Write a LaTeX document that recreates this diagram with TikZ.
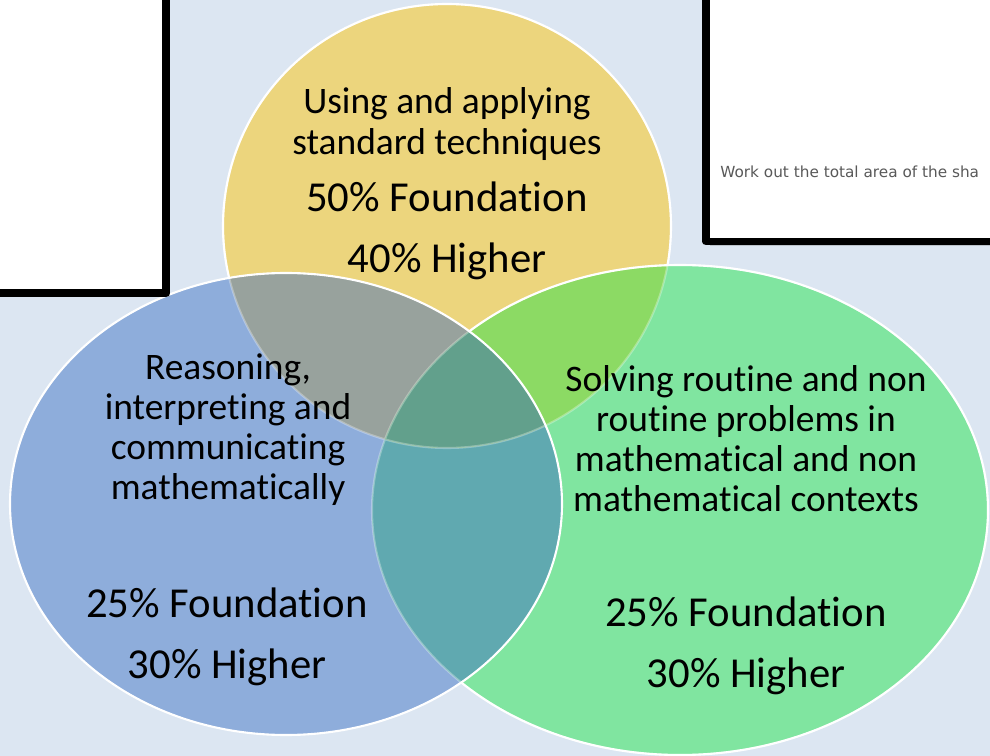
\documentclass[tikz,border=0pt]{standalone}
\usepackage{fontspec}
\setmainfont{Carlito}[Ligatures=NoCommon]
\newfontfamily\slidefont{DejaVu Sans}
\usetikzlibrary{shadows}
\definecolor{bgblue}{HTML}{DCE6F2}
\definecolor{yellowset}{HTML}{ECD57D}
\definecolor{blueset}{HTML}{8EADDB}
\definecolor{greenset}{HTML}{80E5A0}
\definecolor{ybset}{HTML}{98A29D}
\definecolor{ygset}{HTML}{8CDA64}
\definecolor{bgset}{HTML}{60A9B0}
\definecolor{allset}{HTML}{62A08C}
\begin{document}
\begin{tikzpicture}[x=0.02cm, y=-0.02cm, line join=round, line cap=round,
	ring/.style={draw=white, line width=1.2pt},
	faintring/.style={draw=white, draw opacity=0.3, line width=1.2pt},
	heading/.style={align=center, font=\fontsize{21.3}{22.8}\selectfont},
	share/.style={align=center, font=\fontsize{24.3}{34.7}\selectfont},
	pagebox/.style={fill=white, draw=black, line width=4.5pt,
		drop shadow={shadow xshift=2.5pt, shadow yshift=-2.5pt, opacity=0.35}}]
	\useasboundingbox[fill=bgblue] (0,0) rectangle (990,756);
	\path
	(447,226) coordinate (Y)
	(286,504) coordinate (B)
	(680,510) coordinate (G);
	% the three sets
	\fill[yellowset] (Y) ellipse (224 and 222);
	\fill[blueset] (B) ellipse (276 and 231);
	\fill[greenset] (G) ellipse (308 and 245);
	\begin{scope}
		\clip (B) ellipse (276 and 231);
		\fill[bgset] (G) ellipse (308 and 245);
	\end{scope}
	\begin{scope}
		\clip (Y) ellipse (224 and 222);
		\fill[ybset] (B) ellipse (276 and 231);
		\fill[ygset] (G) ellipse (308 and 245);
		\clip (B) ellipse (276 and 231);
		\fill[allset] (G) ellipse (308 and 245);
	\end{scope}
	% outlines
	\draw[faintring] (Y) ellipse (224 and 222) (G) ellipse (308 and 245);
	\begin{scope}[even odd rule]
		\clip (-50,-50) rectangle (1050,800) (B) ellipse (276 and 231);
		\draw[ring] (G) ellipse (308 and 245);
		\clip (-50,-50) rectangle (1050,800) (G) ellipse (308 and 245);
		\draw[ring] (Y) ellipse (224 and 222);
	\end{scope}
	\draw[ring] (B) ellipse (276 and 231);
	% texts
	\node[heading] (usetxt) at (447,124) {Using and applying\\standard techniques};
	\node[share] (usepct) at (447,231) {50\% Foundation\\40\% Higher};
	\node[heading] (reatxt) at (228,430) {Reasoning,\\interpreting and\\communicating\\mathematically};
	\node[share] (reapct) at (227,637) {25\% Foundation\\30\% Higher};
	\node[heading] (soltxt) at (746,439) {Solving routine and non\\routine problems in\\mathematical and non\\mathematical contexts};
	\node[share] (solpct) at (746,646) {25\% Foundation\\30\% Higher};
	% slide boxes
	\draw[pagebox] (-20,-20) rectangle (166,293);
	\draw[pagebox] (706,-20) rectangle (1010,241.5);
	\node[anchor=base west, inner sep=0pt, text=black!65, font=\slidefont\fontsize{8.7}{10}\selectfont] (asktxt) at (720,178) {Work out the total area of the sha};
\end{tikzpicture}
\end{document}
